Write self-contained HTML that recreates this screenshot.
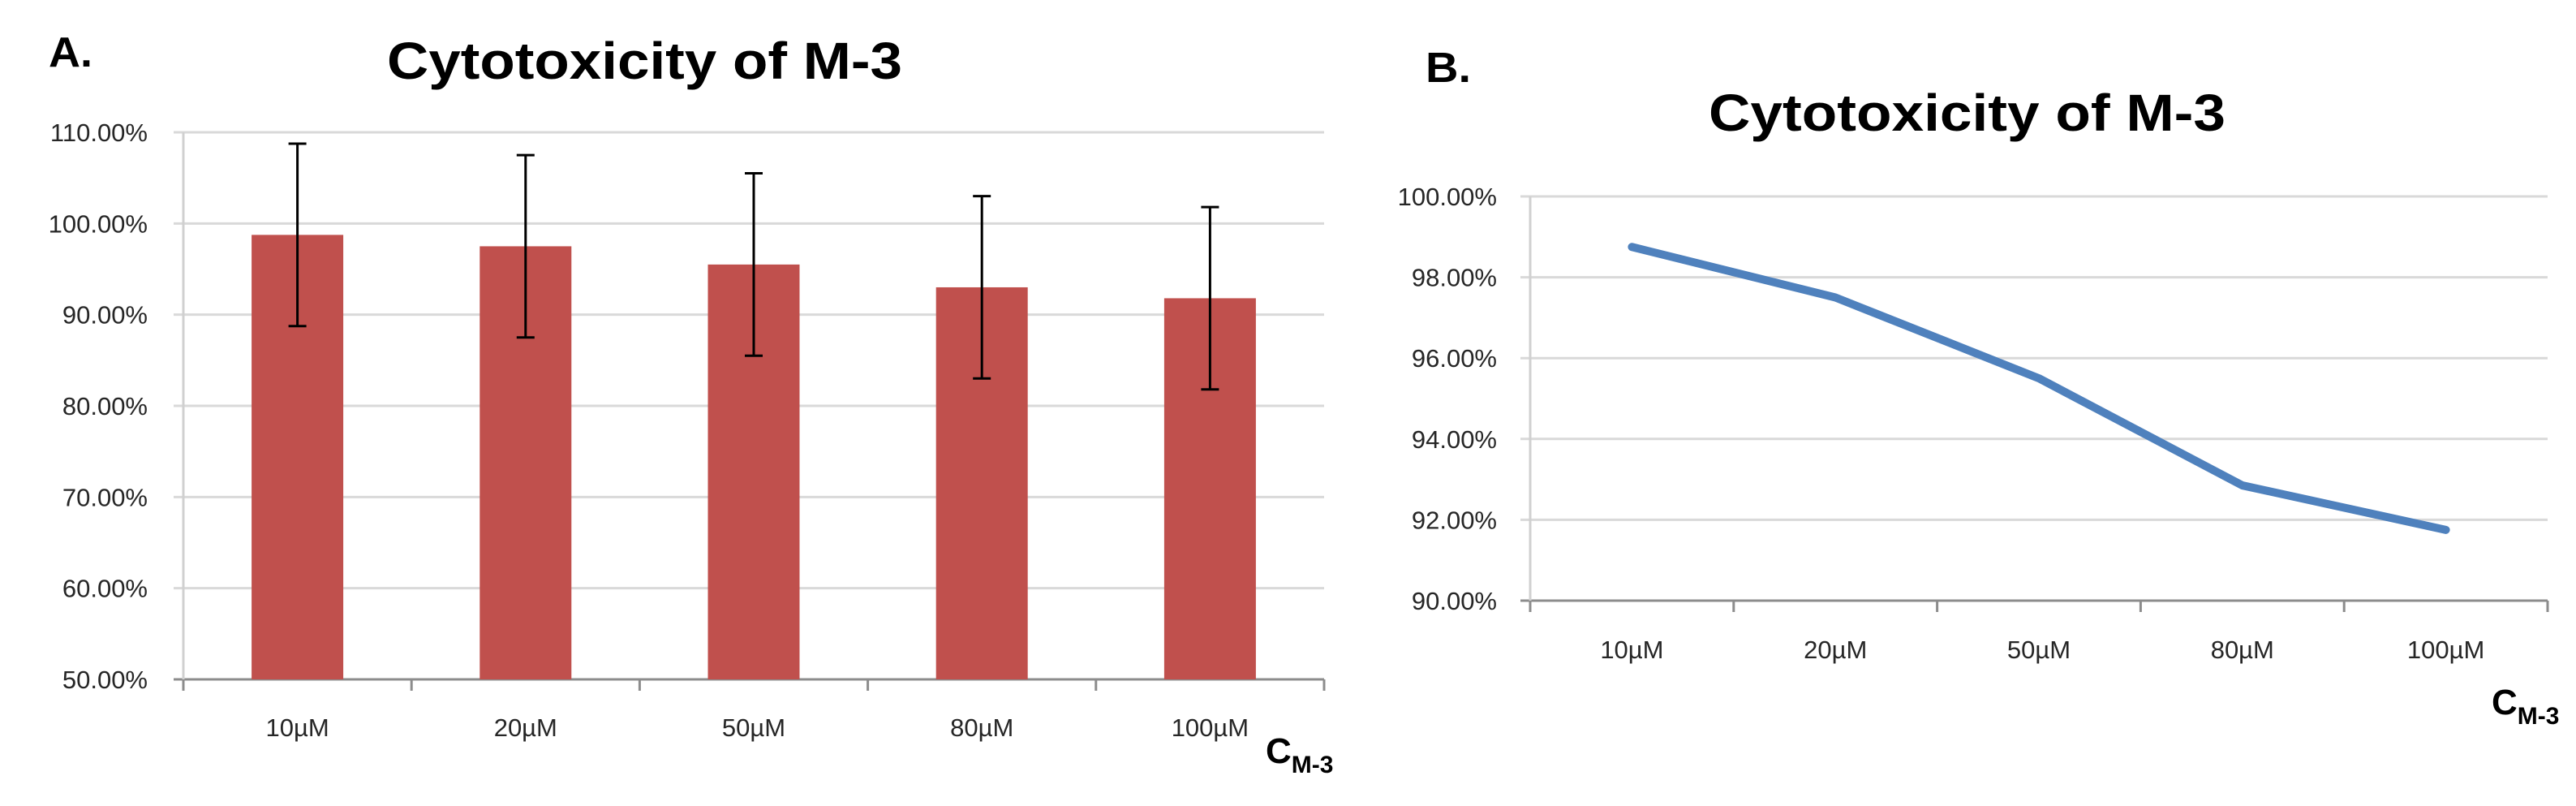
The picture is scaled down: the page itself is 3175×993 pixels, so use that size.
<!DOCTYPE html>
<html><head><meta charset="utf-8"><style>
html,body{margin:0;padding:0;background:#fff;width:3175px;height:993px;overflow:hidden}
svg{display:block}
text{font-family:"Liberation Sans",sans-serif}
</style></head><body>
<svg id="chart" width="3175" height="993" viewBox="0 0 3175 993" xmlns="http://www.w3.org/2000/svg">
<text x="60" y="82" font-size="52" font-weight="bold" textLength="54" lengthAdjust="spacingAndGlyphs">A.</text>
<text x="477" y="97" font-size="64" font-weight="bold" textLength="635" lengthAdjust="spacingAndGlyphs">Cytotoxicity of M-3</text>
<text x="1757" y="101" font-size="52" font-weight="bold" textLength="56" lengthAdjust="spacingAndGlyphs">B.</text>
<text x="2106" y="161" font-size="64" font-weight="bold" textLength="637" lengthAdjust="spacingAndGlyphs">Cytotoxicity of M-3</text>
<g id="ga"></g>
<g id="gb"></g>
</svg>
<script>
const categories = ["10µM","20µM","50µM","80µM","100µM"];
const barValues = [98.75, 97.5, 95.5, 93.0, 91.8];
const errorValues = [10, 10, 10, 10, 10];
const yTicksA = [50,60,70,80,90,100,110];
const lineValues = [98.75, 97.5, 95.5, 92.85, 91.75];
const yTicksB = [90,92,94,96,98,100];

const NS="http://www.w3.org/2000/svg";
function mk(parent,tag,attrs,txt){const e=document.createElementNS(NS,tag);for(const k in attrs)e.setAttribute(k,attrs[k]);if(txt!==undefined)e.textContent=txt;parent.appendChild(e);return e;}

// Chart A
(function(){
  const g=document.getElementById('ga');
  const L=226,R=1632,T=163,B=837,ymin=50,ymax=110;
  const y=v=>B-(v-ymin)/(ymax-ymin)*(B-T);
  const step=(R-L)/categories.length;
  const x=i=>L+step*(i+0.5);
  yTicksA.forEach(t=>{
    const ln=mk(g,'line',{x1:L-12,x2:R,y1:y(t),y2:y(t),stroke:t===ymin?'#8c8c8c':'#d9d9d9','stroke-width':3});
    
    
    const tx=mk(g,'text',{x:182,y:y(t)+11,'font-size':31,'text-anchor':'end',fill:'#262626'},t.toFixed(2)+'%');
    
    
  });
  const ax=mk(g,'line',{x1:L,x2:L,y1:T,y2:B+14,stroke:'#d0d0d0','stroke-width':3});
  
  
  for(let i=0;i<=categories.length;i++){
    const tk=mk(g,'line',{x1:L+step*i,x2:L+step*i,y1:B,y2:B+14,stroke:'#8c8c8c','stroke-width':3});
    
    
  }
  categories.forEach((c,i)=>{
    const bw=113;
    const r=mk(g,'rect',{x:x(i)-bw/2,y:y(barValues[i]),width:bw,height:B-y(barValues[i]),fill:'#c0504d'});
    
    
    const hi=y(barValues[i]+errorValues[i]),lo=y(barValues[i]-errorValues[i]);
    const e=mk(g,'path',{d:`M${x(i)},${hi}V${lo}M${x(i)-11},${hi}H${x(i)+11}M${x(i)-11},${lo}H${x(i)+11}`,stroke:'#000','stroke-width':3,fill:'none'});
    
    
    const t=mk(g,'text',{x:x(i),y:907,'font-size':31,'text-anchor':'middle',fill:'#262626'},c);
    
    
  });
  const xt=mk(g,'text',{x:1560,y:940,'font-size':44,'font-weight':'bold'});
  
  
  mk(xt,'tspan',{},'C');
  mk(xt,'tspan',{'font-size':30,dy:12},'M-3');
})();

// Chart B
(function(){
  const g=document.getElementById('gb');
  const L=1886,R=3140,T=242,B=740,ymin=90,ymax=100;
  const y=v=>B-(v-ymin)/(ymax-ymin)*(B-T);
  const step=(R-L)/categories.length;
  const x=i=>L+step*(i+0.5);
  yTicksB.forEach(t=>{
    const ln=mk(g,'line',{x1:L-12,x2:R,y1:y(t),y2:y(t),stroke:t===ymin?'#8c8c8c':'#d9d9d9','stroke-width':3});
    
    
    const tx=mk(g,'text',{x:1845,y:y(t)+11,'font-size':31,'text-anchor':'end',fill:'#262626'},t.toFixed(2)+'%');
    
    
  });
  const ax=mk(g,'line',{x1:L,x2:L,y1:T,y2:B+14,stroke:'#d0d0d0','stroke-width':3});
  
  
  for(let i=0;i<=categories.length;i++){
    const tk=mk(g,'line',{x1:L+step*i,x2:L+step*i,y1:B,y2:B+14,stroke:'#8c8c8c','stroke-width':3});
    
    
  }
  const d=lineValues.map((v,i)=>(i?'L':'M')+x(i)+','+y(v)).join('');
  const p=mk(g,'path',{d:d,stroke:'#4f81bd','stroke-width':10,fill:'none','stroke-linejoin':'round','stroke-linecap':'round'});
  
  
  categories.forEach((c,i)=>{
    const t=mk(g,'text',{x:x(i),y:811,'font-size':31,'text-anchor':'middle',fill:'#262626'},c);
    
    
  });
  const xt=mk(g,'text',{x:3071,y:880,'font-size':44,'font-weight':'bold'});
  
  
  mk(xt,'tspan',{},'C');
  mk(xt,'tspan',{'font-size':30,dy:12},'M-3');
})();
</script>
</body></html>
